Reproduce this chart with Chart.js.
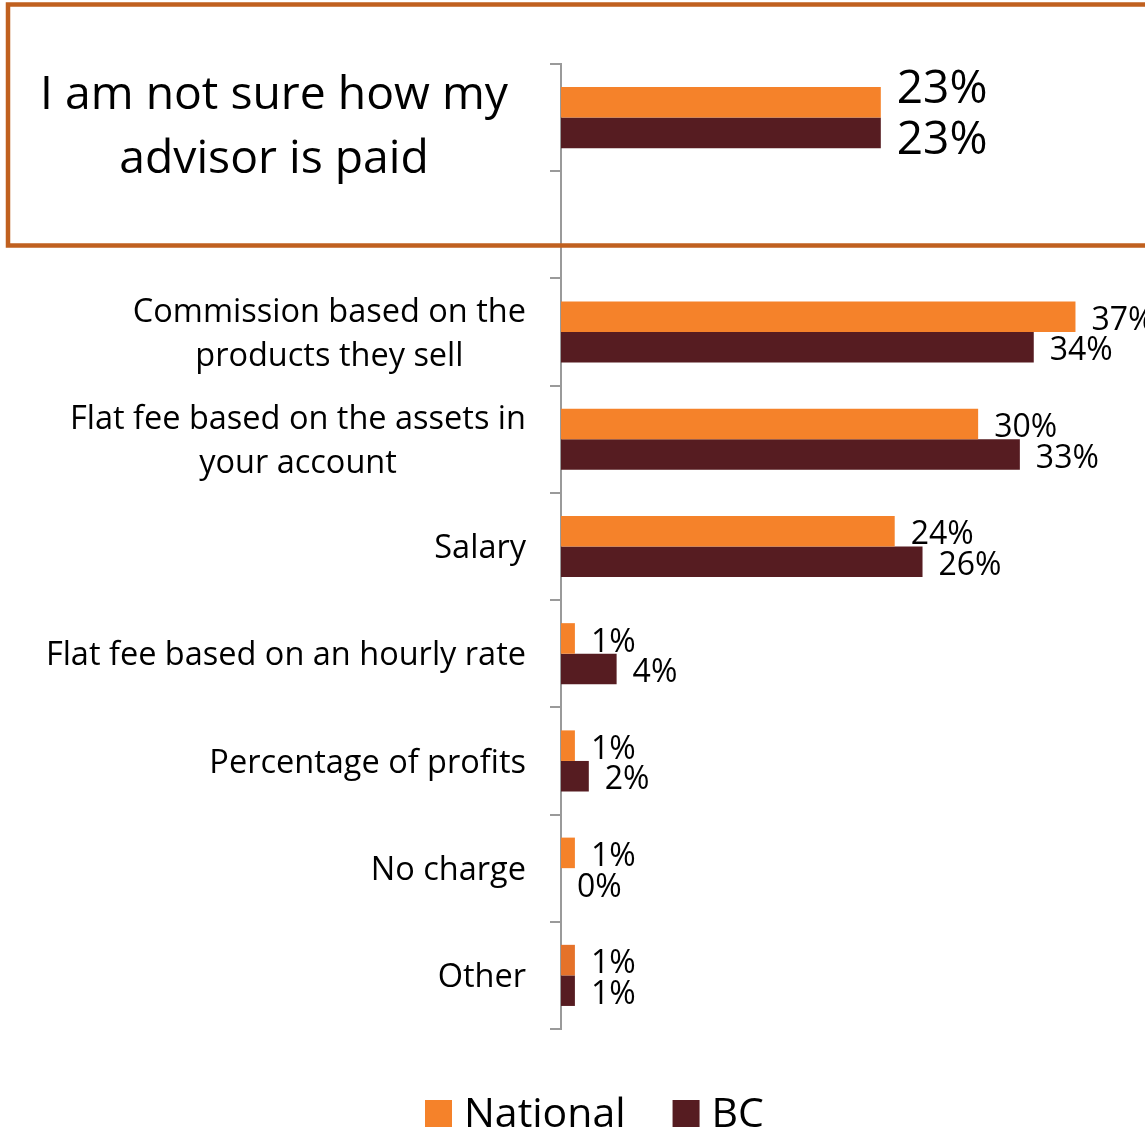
<!DOCTYPE html>
<html>
<head>
<meta charset="utf-8">
<title>How advisors are paid</title>
<script src="https://cdn.jsdelivr.net/npm/chart.js@4.4.1/dist/chart.umd.min.js"></script>
<style>
  html, body { margin: 0; padding: 0; background: #fff; }
</style>
</head>
<body>
<canvas id="payChart" width="1145" height="1130"></canvas>
<script>
// how advisors are paid: National vs BC (percent of respondents)
const categories = [
  ['I am not sure how my', 'advisor is paid'],
  [],
  ['Commission based on the', 'products they sell'],
  ['Flat fee based on the assets in', 'your account'],
  ['Salary'],
  ['Flat fee based on an hourly rate'],
  ['Percentage of profits'],
  ['No charge'],
  ['Other']
];
const seriesNames = ['National', 'BC'];
const nationalValues = [23, null, 37, 30, 24, 1, 1, 1, 1];
const bcValues = [23, null, 34, 33, 26, 4, 2, 0, 1];

const FONT = '"Open Sans", sans-serif';
const ORANGE = '#F5822A';
const MAROON = '#561C21';
const AXIS_GREY = '#9A9A9A';

// value labels, category labels, the highlight frame and the legend
const drawExtras = {
  id: 'drawExtras',
  afterDatasetsDraw(chart) {
    const ctx = chart.ctx;
    ctx.save();
    ctx.fillStyle = '#000';
    ctx.textAlign = 'left';
    ctx.textBaseline = 'middle';
    chart.data.datasets.forEach((ds, di) => {
      chart.getDatasetMeta(di).data.forEach((bar, i) => {
        const v = ds.data[i];
        if (v === null) return;
        let dy = 4;
        if (i === 0) {
          ctx.font = '46px ' + FONT;
          dy = di === 0 ? -12 : 8;
        } else {
          ctx.font = '32px ' + FONT;
        }
        ctx.fillText(v + '%', bar.x + 16, bar.y + dy);
      });
    });
    ctx.restore();
  },
  afterDraw(chart) {
    const ctx = chart.ctx;
    const yScale = chart.scales.y;
    ctx.save();

    // category labels, each one centred on its own widest line
    ctx.fillStyle = '#000';
    ctx.textAlign = 'center';
    ctx.textBaseline = 'alphabetic';
    categories.forEach((lines, i) => {
      if (!lines.length) return;
      const big = i === 0;
      const size = big ? 46.3 : 32.5;
      const lh = big ? 64 : 44;
      ctx.font = size + 'px ' + FONT;
      const widest = Math.max(...lines.map(l => ctx.measureText(l).width));
      const cx = (big ? 508 : 526) - widest / 2;
      const yc = yScale.getPixelForValue(i) + (big ? 7 : 0);
      const first = yc - (lines.length - 1) * lh / 2 + size * 0.357;
      lines.forEach((l, k) => ctx.fillText(l, cx, first + k * lh));
    });

    // frame around the first question
    ctx.strokeStyle = '#C0601F';
    ctx.lineWidth = 4.5;
    ctx.strokeRect(8, 4.5, 1150, 241);

    // legend
    ctx.textAlign = 'left';
    ctx.font = '41px ' + FONT;
    let x = 425;
    chart.data.datasets.forEach(ds => {
      ctx.fillStyle = ds.legendColor;
      ctx.fillRect(x, 1100, 27, 27);
      ctx.fillStyle = '#000';
      ctx.fillText(ds.label, x + 39, 1127);
      x += 39 + ctx.measureText(ds.label).width + 47;
    });
    ctx.restore();
  }
};

const ctx = document.getElementById('payChart').getContext('2d');
new Chart(ctx, {
  type: 'bar',
  data: {
    labels: categories,
    datasets: [
      {
        label: seriesNames[0],
        data: nationalValues,
        backgroundColor: nationalValues.map((v, i) => i === nationalValues.length - 1 ? '#E5722A' : ORANGE),
        legendColor: ORANGE,
        barPercentage: 1,
        categoryPercentage: 0.57
      },
      {
        label: seriesNames[1],
        data: bcValues,
        backgroundColor: MAROON,
        legendColor: MAROON,
        barPercentage: 1,
        categoryPercentage: 0.57
      }
    ]
  },
  options: {
    indexAxis: 'y',
    responsive: false,
    animation: false,
    devicePixelRatio: 1,
    layout: { padding: { left: 550, top: 64, right: 0, bottom: 101 } },
    plugins: {
      legend: { display: false },
      tooltip: { enabled: false }
    },
    scales: {
      x: { display: false, min: 0, max: 42 },
      y: {
        grid: {
          drawOnChartArea: false,
          drawTicks: true,
          tickLength: 11,
          color: AXIS_GREY,
          lineWidth: 2,
          offset: true
        },
        border: { color: AXIS_GREY, width: 2 },
        ticks: { display: false }
      }
    }
  },
  plugins: [drawExtras]
});
</script>
</body>
</html>
